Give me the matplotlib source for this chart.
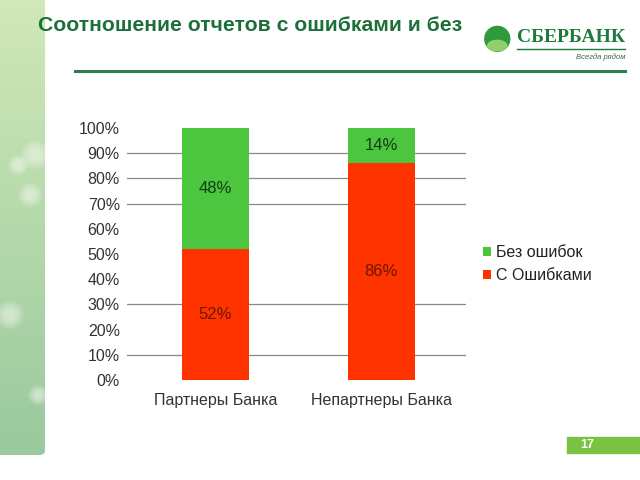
import numpy as np
import matplotlib.pyplot as plt
from matplotlib.patches import Rectangle, Ellipse, FancyBboxPatch

plt.rcParams['font.family'] = ['Liberation Sans', 'DejaVu Sans']

# Chart data
categories = ['Партнеры Банка', 'Непартнеры Банка']
with_errors = [52, 86]
without_errors = [48, 14]
series_names = ['Без ошибок', 'С Ошибками']
y_ticks = [0, 10, 20, 30, 40, 50, 60, 70, 80, 90, 100]
grid_levels = [10, 30, 70, 80, 90]  # lines that show in the picture

green = '#4cc63f'
red = '#ff3300'

fig = plt.figure(figsize=(6.4, 4.8), dpi=100)
fig.patch.set_facecolor('white')

# Blurred green panel on the left side of the slide
bg = fig.add_axes([0, 0.052, 0.071, 0.948])
bg.set_axis_off()
grad = np.linspace(0, 1, 200).reshape(-1, 1)
top_col = np.array([0.82, 0.91, 0.72])
bot_col = np.array([0.60, 0.79, 0.62])
img = top_col * (1 - grad[..., None]) + bot_col * grad[..., None]
img = np.repeat(img, 10, axis=1)
im = bg.imshow(img, aspect='auto', extent=[0, 45, 0, 455], origin='upper')
clip = FancyBboxPatch((-10, 0), 55, 470, boxstyle='round,pad=0,rounding_size=6',
                      transform=bg.transData, facecolor='none', edgecolor='none')
bg.add_patch(clip)
im.set_clip_path(clip)
# soft bokeh spots (pixel units of the panel)
for cx, cy, r in [(35, 300, 14), (18, 290, 10), (30, 260, 12), (10, 140, 14), (38, 60, 10)]:
    for k in range(5):
        bg.add_patch(Ellipse((cx, cy), 2 * r * (1 - 0.15 * k), 2 * r * (1 - 0.15 * k),
                             color='white', alpha=0.12, lw=0))
bg.set_xlim(0, 45)
bg.set_ylim(0, 455)

# Title and header line
fig.text(0.059, 0.947, 'Соотношение отчетов с ошибками и без', fontsize=15.2,
         fontweight='bold', color='#1d6f3a', va='center', ha='left')
fig.add_artist(plt.Line2D([0.117, 0.977], [0.853, 0.853], color='#2a7f4a', lw=2.2))

# Logo
fig.patches.append(Ellipse((0.777, 0.919), 0.039, 0.052, transform=fig.transFigure,
                           color='#2d9a3c', zorder=3))
fig.patches.append(Ellipse((0.777, 0.905), 0.03, 0.022, transform=fig.transFigure,
                           color='#8fd06a', zorder=3))
fig.text(0.808, 0.921, 'СБЕРБАНК', fontsize=14, fontweight='bold', color='#1e7a3c',
         family='Liberation Serif', va='center', ha='left')
fig.add_artist(plt.Line2D([0.808, 0.977], [0.897, 0.897], color='#1e7a3c', lw=1))
fig.text(0.977, 0.888, 'Всегда рядом', fontsize=5.5, style='italic', color='#3a6a3a',
         va='top', ha='right')

# Chart
ax = fig.add_axes([0.198, 0.2083, 0.530, 0.525])
ax.patch.set_alpha(0)
x = np.arange(len(categories))
b1 = ax.bar(x, with_errors, width=0.4, color=red, zorder=2, label=series_names[1])
b2 = ax.bar(x, without_errors, width=0.4, bottom=with_errors, color=green, zorder=2,
            label=series_names[0])
for g in grid_levels:
    ax.axhline(g, color='#888888', lw=0.9, zorder=1)

for i in range(len(categories)):
    ax.text(x[i], with_errors[i] / 2, f'{with_errors[i]}%', ha='center', va='center',
            fontsize=12, color='#6a1800', zorder=3)
    ax.text(x[i], with_errors[i] + without_errors[i] / 2, f'{without_errors[i]}%',
            ha='center', va='center', fontsize=12, color='#153a15', zorder=3)

ax.set_xlim(-0.535, 1.51)
ax.set_ylim(0, 100)
ax.set_yticks(y_ticks)
ax.set_yticklabels([f'{t}%' for t in y_ticks])
ax.set_xticks(x)
ax.set_xticklabels(categories)
ax.tick_params(axis='both', length=0, labelsize=11.5, labelcolor='#333333')
ax.tick_params(axis='y', pad=5)
ax.tick_params(axis='x', pad=9)
for s in ax.spines.values():
    s.set_visible(False)

handles = [b2, b1]
fig.legend(handles, series_names, loc='center left', bbox_to_anchor=(0.733, 0.45),
           frameon=False, fontsize=11.5, handlelength=0.5, handleheight=0.5,
           handletextpad=0.3, labelspacing=0.5, labelcolor='#222222')

# Page number box
fig.patches.append(Rectangle((0.886, 0.056), 0.114, 0.033, transform=fig.transFigure,
                             color='#7cc242', zorder=3))
fig.text(0.906, 0.073, '17', fontsize=9, fontweight='bold', color='white',
         va='center', ha='left', zorder=4)

fig.savefig('out.png', dpi=100)
